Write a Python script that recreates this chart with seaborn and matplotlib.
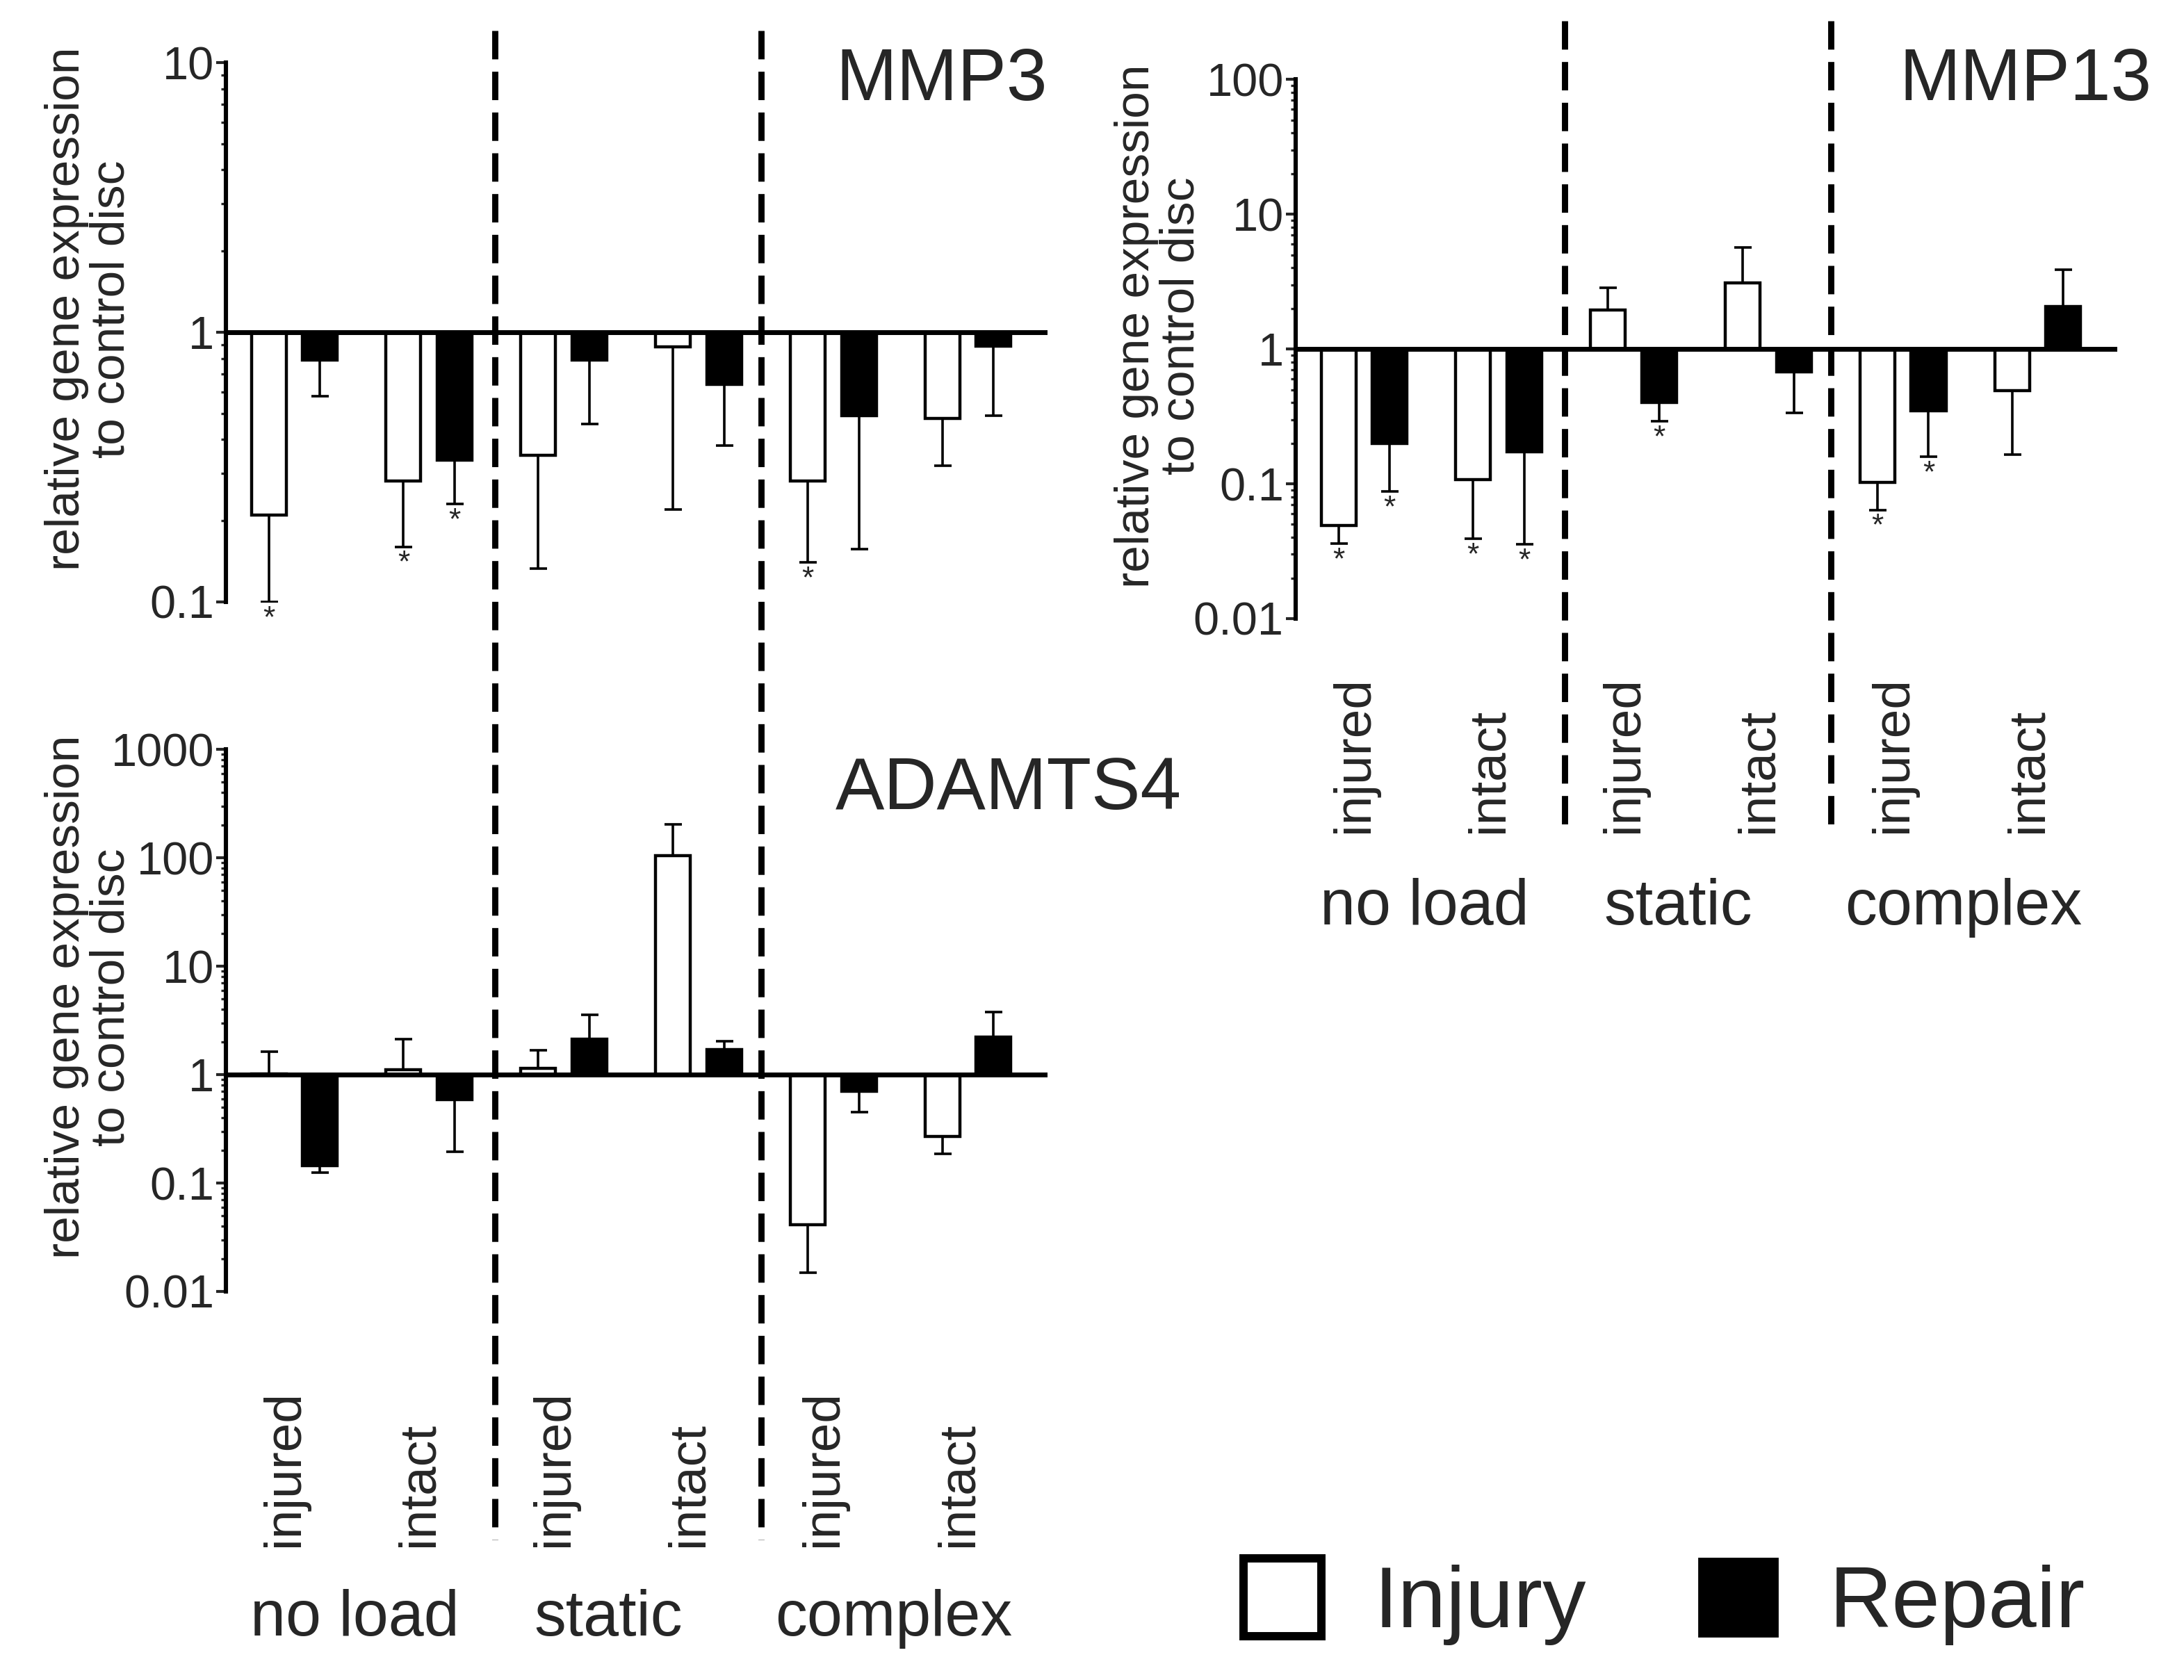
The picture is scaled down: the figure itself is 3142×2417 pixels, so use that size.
import numpy as np
import pandas as pd
import matplotlib
matplotlib.use("Agg")
import matplotlib.pyplot as plt
import matplotlib.transforms as mtransforms
from matplotlib.lines import Line2D
from matplotlib.patches import Patch
import seaborn as sns

# categories
samples = ["no load injured", "no load intact", "static injured",
           "static intact", "complex injured", "complex intact"]
disc_labels = ["injured", "intact", "injured", "intact", "injured", "intact"]
load_groups = ["no load", "static", "complex"]
treatments = ["Injury", "Repair"]

# MMP3 (bar value and end of error bar, relative to control disc)
mmp3_injury = [0.21, 0.28, 0.35, 0.88, 0.28, 0.48]
mmp3_injury_err = [0.10, 0.16, 0.133, 0.22, 0.14, 0.32]
mmp3_repair = [0.79, 0.336, 0.79, 0.64, 0.49, 0.89]
mmp3_repair_err = [0.58, 0.23, 0.457, 0.38, 0.157, 0.49]
mmp3_injury_sig = [1, 1, 0, 0, 1, 0]
mmp3_repair_sig = [0, 1, 0, 0, 0, 0]

# MMP13
mmp13_injury = [0.049, 0.107, 1.95, 3.1, 0.102, 0.49]
mmp13_injury_err = [0.036, 0.039, 2.85, 5.7, 0.064, 0.164]
mmp13_repair = [0.20, 0.173, 0.40, 0.68, 0.35, 2.07]
mmp13_repair_err = [0.088, 0.0355, 0.29, 0.337, 0.159, 3.87]
mmp13_injury_sig = [1, 1, 0, 0, 1, 0]
mmp13_repair_sig = [1, 1, 1, 0, 1, 0]

# ADAMTS4
adamts4_injury = [1.02, 1.11, 1.14, 105, 0.041, 0.27]
adamts4_injury_err = [1.64, 2.13, 1.68, 205, 0.0148, 0.187]
adamts4_repair = [0.145, 0.587, 2.13, 1.70, 0.70, 2.22]
adamts4_repair_err = [0.124, 0.195, 3.54, 2.02, 0.45, 3.78]
adamts4_injury_sig = [0, 0, 0, 0, 0, 0]
adamts4_repair_sig = [0, 0, 0, 0, 0, 0]

sns.set_style("white")
plt.rcParams["font.family"] = ["Liberation Sans", "DejaVu Sans"]

YLABEL = "relative gene expression\nto control disc"


def make_frame(injury, repair):
    df = pd.DataFrame({
        "sample": samples * 2,
        "treatment": ["Injury"] * 6 + ["Repair"] * 6,
        "value": list(injury) + list(repair),
    })
    df["log_value"] = np.log10(df["value"])
    return df


def draw_panel(ax, injury, injury_err, repair, repair_err, inj_sig, rep_sig,
               lo, hi, title, title_xy, xlabels=False, xpad=0, group_y=0):
    df = make_frame(injury, repair)
    sns.barplot(data=df, x="sample", y="log_value", hue="treatment",
                order=samples, hue_order=treatments,
                palette={"Injury": "white", "Repair": "black"},
                saturation=1, edgecolor="black", linewidth=1.6,
                width=0.76, gap=0.32, errorbar=None, legend=False, ax=ax)

    # one-sided error bars, pointing away from 1
    for cont, vals, ends, sig in zip(ax.containers, [injury, repair],
                                     [injury_err, repair_err], [inj_sig, rep_sig]):
        for bar, v, e, s in zip(cont, vals, ends, sig):
            x = bar.get_x() + bar.get_width() / 2
            y = np.log10(v)
            d = np.log10(e) - y
            yerr = [[-d], [0]] if d < 0 else [[0], [d]]
            ax.errorbar(x, y, yerr=yerr, fmt="none", ecolor="black",
                        elinewidth=1.3, capsize=4.5, capthick=1.3, zorder=1)
            if s:
                ax.annotate("*", (x, np.log10(e)), xytext=(0, -1.5),
                            textcoords="offset points", ha="center", va="top",
                            fontsize=16)

    ax.axhline(0, color="black", lw=2.5, zorder=3)
    ax.set_xlim(-0.51, 5.59)
    ax.set_ylim(lo, hi)
    ax.set_yticks(range(lo, hi + 1))
    ax.set_yticklabels([f"{10.0 ** k:g}" for k in range(lo, hi + 1)], fontsize=24)
    ax.set_yticks([np.log10(m * 10.0 ** k) for k in range(lo, hi) for m in range(2, 10)],
                  minor=True)
    ax.tick_params(axis="y", which="major", direction="out", length=5, width=1.5,
                   pad=1, left=True)
    ax.tick_params(axis="y", which="minor", direction="out", length=2.5, width=1.2,
                   left=True)
    for side in ["top", "right", "bottom"]:
        ax.spines[side].set_visible(False)
    ax.spines["left"].set_linewidth(2.2)
    ax.spines["left"].set_color("black")
    ax.set_facecolor("none")

    ax.set_xlabel("")
    ax.set_ylabel(YLABEL, fontsize=25, linespacing=1.0)
    ax.yaxis.set_label_coords(-0.112, 0.543)

    if xlabels:
        ax.set_xticks(range(len(samples)))
        ax.set_xticklabels(disc_labels, rotation=90, fontsize=27,
                           va="bottom", ha="center")
        ax.tick_params(axis="x", length=0, pad=xpad)
        shift = mtransforms.ScaledTranslation(-5 / 72, 0, ax.figure.dpi_scale_trans)
        for lab in ax.get_xticklabels():
            lab.set_transform(lab.get_transform() + shift)
        trans = mtransforms.blended_transform_factory(ax.transData, ax.transAxes)
        for gx, g in zip([0.45, 2.33, 4.45], load_groups):
            ax.text(gx, group_y, g, transform=trans, ha="center", va="center",
                    fontsize=33)
    else:
        ax.set_xticks([])

    ax.text(title_xy[0], title_xy[1], title, transform=ax.transAxes,
            ha="right", va="center", fontsize=38)


fig = plt.figure(figsize=(15.71, 12.085), dpi=200)
ax1 = fig.add_axes([0.1033, 0.6418, 0.3763, 0.3209])
ax2 = fig.add_axes([0.5931, 0.6318, 0.3763, 0.3209])
ax3 = fig.add_axes([0.1033, 0.2313, 0.3763, 0.3226])

draw_panel(ax1, mmp3_injury, mmp3_injury_err, mmp3_repair, mmp3_repair_err,
           mmp3_injury_sig, mmp3_repair_sig, -1, 1, "MMP3", (1.0, 0.966))
draw_panel(ax2, mmp13_injury, mmp13_injury_err, mmp13_repair, mmp13_repair_err,
           mmp13_injury_sig, mmp13_repair_sig, -2, 2, "MMP13", (1.042, 0.997),
           xlabels=True, xpad=111, group_y=-0.537)
draw_panel(ax3, adamts4_injury, adamts4_injury_err, adamts4_repair, adamts4_repair_err,
           adamts4_injury_sig, adamts4_repair_sig, -2, 3, "ADAMTS4", (1.163, 0.925),
           xlabels=True, xpad=132, group_y=-0.604)

# dashed dividers between load conditions, drawn on the figure so they cross panels
for ax, (y0, y1) in [(ax1, (0.9818, 0.0837)), (ax2, (0.9876, 0.5025))]:
    trans = mtransforms.blended_transform_factory(ax.transData, fig.transFigure)
    for xd in [1.49, 3.465]:
        fig.add_artist(Line2D([xd, xd], [y0, y1], transform=trans, color="black",
                              lw=3.2, ls=(0, (4.6, 2.0)), zorder=5))

handles = [Patch(facecolor="white", edgecolor="black", linewidth=4.3, label="Injury"),
           Patch(facecolor="black", edgecolor="black", linewidth=1, label="Repair")]
fig.legend(handles=handles, loc="center", bbox_to_anchor=(0.762, 0.0464), ncol=2,
           frameon=False, fontsize=45, handlelength=0.9, handleheight=1.0,
           handletextpad=0.6, columnspacing=1.3)

fig.savefig("out.png", dpi=200)
